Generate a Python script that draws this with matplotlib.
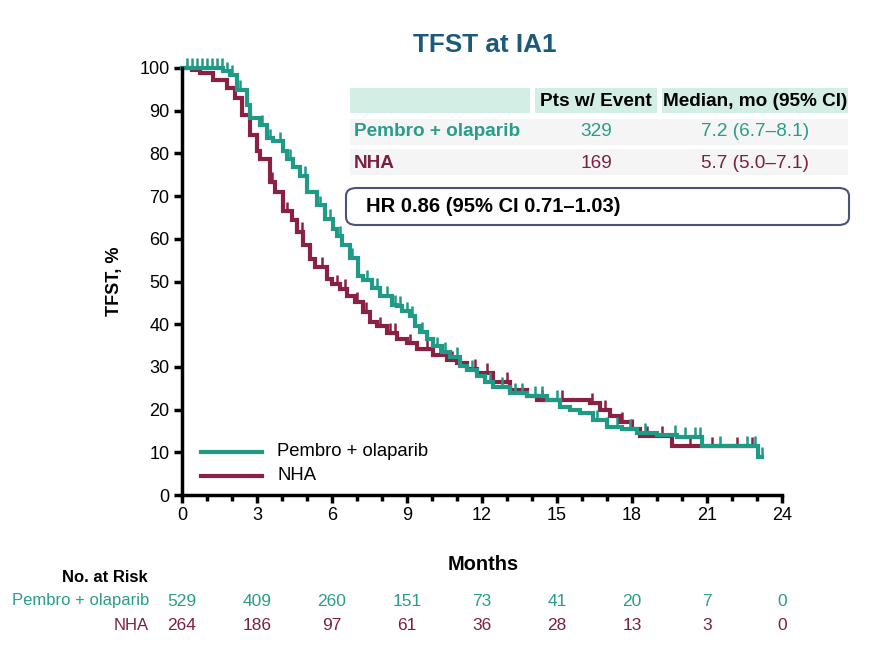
import numpy as np
import matplotlib
matplotlib.use("Agg")
import matplotlib.pyplot as plt
from matplotlib.patches import FancyBboxPatch, Rectangle

plt.rcParams['font.family'] = ['Liberation Sans', 'DejaVu Sans']

TEAL = '#1f9a86'
RED = '#8a2142'
TEAL_TXT = '#2a9d8a'
RED_TXT = '#7a1f45'

# KM curve points (months, %)
pembro_t = [0, 1.65, 1.9, 2.2, 2.6, 2.7, 3.1, 3.4, 3.65, 4.05, 4.2, 4.45, 4.7, 5.0, 5.4,
            5.7, 6.05, 6.2, 6.4, 6.7, 7.05, 7.25, 7.6, 7.9, 8.4, 8.6, 8.8, 9.1, 9.3,
            9.5, 9.8, 10.05, 10.4, 10.7, 11.1, 11.4, 11.8, 12.1, 12.45, 13.1, 13.8,
            14.6, 15.1, 15.5, 15.9, 16.45, 17.0, 17.6, 18.2, 19.0, 19.8, 20.8, 23.05, 23.2]
pembro_s = [100, 99.2, 98.4, 94.8, 91.3, 88.2, 86.6, 83.5, 82.8, 80.5, 78.8, 76.8, 74.8,
            71, 67.8, 64.7, 62.4, 60.7, 58.5, 55.5, 51.3, 50.3, 48.5, 46.6, 44.5, 44.2,
            43, 41.9, 39.5, 38.1, 36.5, 34.8, 33.5, 32.3, 30.1, 29.2, 27.8, 26.5, 25.4,
            24, 23.2, 22.3, 20.7, 20, 19.3, 17.6, 16, 15.5, 14.6, 14, 13.6, 11.5, 9, 9]
nha_t = [0, 0.4, 0.7, 1.25, 1.8, 2.1, 2.4, 2.7, 3.0, 3.1, 3.5, 3.7, 4.05, 4.4, 4.6, 4.85,
         5.1, 5.3, 5.8, 6.0, 6.3, 6.6, 6.9, 7.25, 7.5, 7.8, 8.2, 8.6, 9.0, 9.4, 10.05,
         10.6, 11.0, 11.4, 11.8, 12.45, 13.1, 13.8, 14.2, 16.3, 16.7, 17.1, 17.5, 18.0,
         18.3, 19.6, 22.9]
nha_s = [100, 99.5, 98.8, 97.2, 95.3, 92.9, 88.9, 84.2, 80.5, 78.8, 73.4, 71, 66.4, 64.5,
         61.6, 58.5, 55.3, 53.5, 50.6, 49.3, 48.2, 46.6, 45.2, 42.8, 40.5, 39.5, 38,
         36.5, 35.5, 34.1, 32.8, 31.5, 30.8, 29.5, 28.5, 26.4, 24.5, 23.1, 22.2, 21.6,
         20, 18.4, 17.2, 15.5, 13.8, 11.4, 11.4]

pembro_cens = [0.2, 0.4, 0.6, 0.8, 1.0, 1.2, 1.4, 1.6, 1.8, 2.0, 2.3, 3.2, 3.5, 3.9, 4.3,
               4.9, 5.5, 5.9, 6.3, 6.8, 7.4, 7.8, 8.2, 8.5, 8.7, 9.0, 9.2, 9.6, 10.2,
               10.5, 11.0, 11.6, 12.3, 12.8, 13.3, 13.6, 14.1, 14.4, 15.0, 16.6, 17.0,
               17.4, 17.9, 18.5, 19.7, 20.1, 20.5, 20.7, 21.5, 22.6, 22.9, 23.2]
nha_cens = [3.6, 4.2, 4.8, 5.6, 6.2, 6.5, 7.0, 7.35, 7.9, 8.3, 8.5, 9.1, 9.8, 10.3, 10.8,
            11.7, 12.2, 13.0, 14.4, 15.2, 16.4, 16.9, 17.6, 18.0, 18.6, 19.2, 20.3,
            21.2, 22.2, 22.8]

risk_times = [0, 3, 6, 9, 12, 15, 18, 21, 24]
risk_pembro = [529, 409, 260, 151, 73, 41, 20, 7, 0]
risk_nha = [264, 186, 97, 61, 36, 28, 13, 3, 0]

W, H = 872, 654
fig = plt.figure(figsize=(W / 100, H / 100), dpi=100)


def fx(x):
    return x / W


def fy(y):
    return 1 - y / H


ax = fig.add_axes([fx(182), fy(495), (782 - 182) / W, (495 - 68) / H])


def step_val(t, ts, ss):
    i = np.searchsorted(ts, t, side='right') - 1
    return ss[max(i, 0)]


for ts, ss, cens, col in [(nha_t, nha_s, nha_cens, RED),
                          (pembro_t, pembro_s, pembro_cens, TEAL)]:
    ax.plot(ts, ss, drawstyle='steps-post', color=col, lw=3, clip_on=False,
            solid_joinstyle='miter')
    cy = [step_val(c, ts, ss) for c in cens]
    ax.vlines(cens, cy, np.array(cy) + 2.3, color=col, lw=1.8, clip_on=False)

ax.set_xlim(0, 24)
ax.set_ylim(0, 100)
ax.set_xticks(risk_times)
ax.set_xticks(np.arange(0, 25, 1), minor=True)
ax.set_yticks(np.arange(0, 101, 10))
for s in ['top', 'right']:
    ax.spines[s].set_visible(False)
for s in ['left', 'bottom']:
    ax.spines[s].set_linewidth(2.5)
ax.tick_params(axis='both', which='major', length=6, width=2.5, labelsize=13,
               direction='out', pad=3)
ax.tick_params(axis='x', which='minor', length=4, width=2.5)
ax.set_ylabel('TFST, %', fontsize=13, fontweight='bold', labelpad=12)

# legend
fig.add_artist(plt.Line2D([fx(201), fx(262)], [fy(452), fy(452)], color=TEAL, lw=3))
fig.add_artist(plt.Line2D([fx(201), fx(262)], [fy(476), fy(476)], color=RED, lw=3))
fig.text(fx(277), fy(452), 'Pembro + olaparib', fontsize=13.3, va='center', ha='left')
fig.text(fx(277), fy(476), 'NHA', fontsize=13.3, va='center', ha='left')

# title
fig.text(fx(485), fy(45), 'TFST at IA1', fontsize=18.8, fontweight='bold',
         color='#1b5a78', ha='center', va='center')

# table
TS = 13.7
for xa, xb in [(350, 530), (535, 657), (662, 848)]:
    fig.add_artist(Rectangle((fx(xa), fy(113)), (xb - xa) / W, 25 / H,
                             transform=fig.transFigure, color='#d3efe5', lw=0))
for y0 in [119, 149]:
    fig.add_artist(Rectangle((fx(350), fy(y0 + 26)), (848 - 350) / W, 26 / H,
                             transform=fig.transFigure, color='#f5f5f5', lw=0))
fig.text(fx(596), fy(101), 'Pts w/ Event', fontsize=TS, fontweight='bold',
         ha='center', va='center')
fig.text(fx(755), fy(101), 'Median, mo (95% CI)', fontsize=TS, fontweight='bold',
         ha='center', va='center')
fig.text(fx(354), fy(132), 'Pembro + olaparib', fontsize=TS, fontweight='bold',
         color=TEAL_TXT, ha='left', va='center')
fig.text(fx(354), fy(163), 'NHA', fontsize=TS, fontweight='bold',
         color=RED_TXT, ha='left', va='center')
fig.text(fx(596), fy(132), '329', fontsize=TS, color=TEAL_TXT, ha='center', va='center')
fig.text(fx(596), fy(163), '169', fontsize=TS, color=RED_TXT, ha='center', va='center')
fig.text(fx(755), fy(132), '7.2 (6.7\u20138.1)', fontsize=TS, color=TEAL_TXT,
         ha='center', va='center')
fig.text(fx(755), fy(163), '5.7 (5.0\u20137.1)', fontsize=TS, color=RED_TXT,
         ha='center', va='center')
fig.add_artist(FancyBboxPatch((fx(346), fy(225)), (849 - 346) / W, (225 - 188) / H,
                              boxstyle='round,pad=0,rounding_size=0.012',
                              transform=fig.transFigure, fc='white',
                              ec='#4d527c', lw=1.5))
fig.text(fx(366), fy(207), 'HR 0.86 (95% CI 0.71\u20131.03)', fontsize=14.5,
         fontweight='bold', ha='left', va='center')

# x label and risk table
fig.text(fx(483), fy(565), 'Months', fontsize=14.4, fontweight='bold', ha='center', va='center')
fig.text(fx(148), fy(577), 'No. at Risk', fontsize=12, fontweight='bold', ha='right', va='center')
fig.text(fx(149), fy(601), 'Pembro + olaparib', fontsize=12, color=TEAL_TXT, ha='right',
         va='center')
fig.text(fx(149), fy(626), 'NHA', fontsize=12, color=RED_TXT, ha='right', va='center')
x0, x1 = 182, 782
for t, a, b in zip(risk_times, risk_pembro, risk_nha):
    px = x0 + (x1 - x0) * t / 24
    fig.text(fx(px), fy(601), str(a), fontsize=12.5, color=TEAL_TXT, ha='center', va='center')
    fig.text(fx(px), fy(626), str(b), fontsize=12.5, color=RED_TXT, ha='center', va='center')

fig.savefig('out.png', dpi=100)
